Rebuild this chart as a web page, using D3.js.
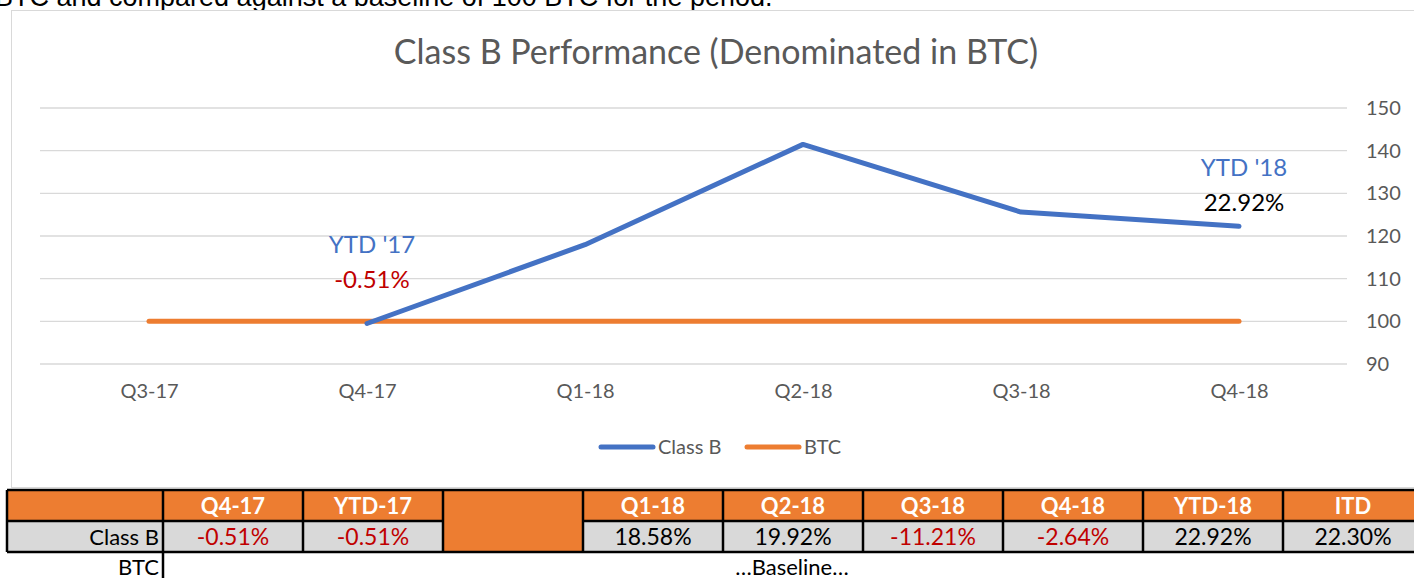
<!DOCTYPE html>
<html>
<head>
<meta charset="utf-8">
<script src="https://cdn.jsdelivr.net/npm/d3@7"></script>
<style>
  body { margin: 0; background: #fff; }
  svg { display: block; }
</style>
</head>
<body>
<div id="chart"></div>
<script>
// chart data
let quarters = ["Q3-17", "Q4-17", "Q1-18", "Q2-18", "Q3-18", "Q4-18"]
let classB = [null, 99.49, 117.97, 141.47, 125.61, 122.29]
let btc = [100, 100, 100, 100, 100, 100]
let yTicks = [90, 100, 110, 120, 130, 140, 150]

// table data
let tableHeads = ["Q4-17", "YTD-17", "", "Q1-18", "Q2-18", "Q3-18", "Q4-18", "YTD-18", "ITD"]
let tableClassB = ["-0.51%", "-0.51%", null, "18.58%", "19.92%", "-11.21%", "-2.64%", "22.92%", "22.30%"]

let blue = "#4472C4", orange = "#ED7D31", grey = "#595959", font = "Lato, 'Open Sans', sans-serif"

let svg = d3.select("#chart").append("svg")
  .attr("width", 1414)
  .attr("height", 578)

// cropped sentence above the chart
svg.append("text")
  .attr("x", -5).attr("y", 6)
  .style("font-family", "'Liberation Sans', Arial, sans-serif")
  .style("font-size", "27px")
  .attr("fill", "#000")
  .text("BTC and compared against a baseline of 100 BTC for the period.")

// chart frame
svg.append("rect")
  .attr("x", 11.5).attr("y", 10.5)
  .attr("width", 1420).attr("height", 477)
  .attr("fill", "#fff")
  .attr("stroke", "#d9d9d9")

let x = d3.scalePoint().domain(quarters).range([40, 1348]).padding(0.5)
let y = d3.scaleLinear().domain([90, 150]).range([364, 108])

// gridlines
svg.append("g").selectAll("line")
  .data(yTicks)
  .join("line")
  .attr("x1", 40).attr("x2", 1347)
  .attr("y1", d => y(d)).attr("y2", d => y(d))
  .attr("stroke", "#d9d9d9").attr("stroke-width", 1.3)

// y axis labels on the right
let yAxis = svg.append("g")
  .attr("transform", "translate(1366,0)")
  .call(d3.axisRight(y).tickValues(yTicks).tickSize(0).tickPadding(0))
yAxis.select(".domain").remove()
yAxis.selectAll("text")
  .attr("fill", grey)
  .style("font-family", font)
  .style("font-size", "20px")

// x axis labels
let xAxis = svg.append("g")
  .attr("transform", "translate(0,384)")
  .call(d3.axisBottom(x).tickSize(0).tickPadding(0))
xAxis.select(".domain").remove()
xAxis.selectAll("text")
  .attr("fill", grey)
  .style("font-family", font)
  .style("font-size", "20px")

// title
svg.append("text")
  .attr("x", 716).attr("y", 64)
  .attr("text-anchor", "middle")
  .attr("fill", grey)
  .style("font-family", font)
  .style("font-size", "34px")
  .text("Class B Performance (Denominated in BTC)")

let line = d3.line()
  .defined(d => d[1] != null)
  .x(d => x(d[0]))
  .y(d => y(d[1]))

svg.append("path")
  .datum(quarters.map((q, i) => [q, btc[i]]))
  .attr("d", line)
  .attr("fill", "none")
  .attr("stroke", orange)
  .attr("stroke-width", 5)
  .attr("stroke-linecap", "round")
  .attr("stroke-linejoin", "round")

svg.append("path")
  .datum(quarters.map((q, i) => [q, classB[i]]))
  .attr("d", line)
  .attr("fill", "none")
  .attr("stroke", blue)
  .attr("stroke-width", 5)
  .attr("stroke-linecap", "round")
  .attr("stroke-linejoin", "round")

// data callouts
let callouts = [
  {q: "Q4-17", v: 116, t1: "YTD '17", t2: "-0.51%", c2: "#C00000"},
  {q: "Q4-18", v: 134, t1: "YTD '18", t2: "22.92%", c2: "#000"}
]
callouts.forEach(c => {
  svg.append("text")
    .attr("x", x(c.q) + 5).attr("y", y(c.v))
    .attr("text-anchor", "middle")
    .attr("fill", blue)
    .style("font-family", font).style("font-size", "24px")
    .text(c.t1)
  svg.append("text")
    .attr("x", x(c.q) + 5).attr("y", y(c.v) + 35)
    .attr("text-anchor", "middle")
    .attr("fill", c.c2)
    .style("font-family", font).style("font-size", "24px")
    .text(c.t2)
})

// legend
let legend = [{name: "Class B", color: blue, x: 601}, {name: "BTC", color: orange, x: 747}]
legend.forEach(l => {
  svg.append("line")
    .attr("x1", l.x).attr("x2", l.x + 52)
    .attr("y1", 447).attr("y2", 447)
    .attr("stroke", l.color).attr("stroke-width", 5)
    .attr("stroke-linecap", "round")
  svg.append("text")
    .attr("x", l.x + 57).attr("y", 454)
    .attr("fill", grey)
    .style("font-family", font).style("font-size", "20px")
    .text(l.name)
})

// table below the chart
let tx = d3.scaleBand().domain(tableHeads.map((d, i) => i)).range([163, 1423])
let rowTop = 490, r1 = 521, r2 = 552, tf = "Lato, 'Open Sans', sans-serif"

// header row
svg.append("rect").attr("x", 7).attr("y", rowTop).attr("width", 1416).attr("height", r1 - rowTop).attr("fill", orange)
// class B row
svg.append("rect").attr("x", 7).attr("y", r1).attr("width", 1416).attr("height", r2 - r1).attr("fill", "#d9d9d9")
// blank merged orange cell
svg.append("rect").attr("x", tx(2)).attr("y", rowTop).attr("width", tx.bandwidth()).attr("height", r2 - rowTop).attr("fill", orange)

let tg = svg.append("g").attr("stroke", "#000").attr("stroke-width", 2.5)
tg.append("line").attr("x1", 7).attr("x2", 1423).attr("y1", rowTop).attr("y2", rowTop)
tg.append("line").attr("x1", 7).attr("x2", 1423).attr("y1", r2).attr("y2", r2)
tg.selectAll("line.mid")
  .data(tableHeads.map((d, i) => i).filter(i => i != 2))
  .join("line")
  .attr("class", "mid")
  .attr("x1", i => tx(i)).attr("x2", i => tx(i) + tx.bandwidth())
  .attr("y1", r1).attr("y2", r1)
tg.append("line").attr("x1", 7).attr("x2", 163).attr("y1", r1).attr("y2", r1)
tg.append("line").attr("x1", 7).attr("x2", 7).attr("y1", rowTop).attr("y2", r2)
tg.selectAll("line.v")
  .data(tableHeads.map((d, i) => i))
  .join("line")
  .attr("class", "v")
  .attr("x1", i => tx(i)).attr("x2", i => tx(i))
  .attr("y1", rowTop).attr("y2", r2)
tg.append("line").attr("x1", 163).attr("x2", 163).attr("y1", r2).attr("y2", 578)

svg.append("g").selectAll("text")
  .data(tableHeads)
  .join("text")
  .attr("x", (d, i) => tx(i) + tx.bandwidth() / 2)
  .attr("y", 514)
  .attr("text-anchor", "middle")
  .attr("fill", "#fff")
  .style("font-family", tf).style("font-size", "22px").style("font-weight", "bold")
  .text(d => d)

svg.append("g").selectAll("text")
  .data(tableClassB)
  .join("text")
  .attr("x", (d, i) => tx(i) + tx.bandwidth() / 2)
  .attr("y", 545)
  .attr("text-anchor", "middle")
  .attr("fill", d => d && d[0] == "-" ? "#C00000" : "#000")
  .style("font-family", tf).style("font-size", "23px")
  .text(d => d)

svg.append("text").attr("x", 159).attr("y", 545).attr("text-anchor", "end")
  .style("font-family", tf).style("font-size", "22px").text("Class B")
svg.append("text").attr("x", 159).attr("y", 575).attr("text-anchor", "end")
  .style("font-family", tf).style("font-size", "22px").text("BTC")
svg.append("text").attr("x", 792).attr("y", 575).attr("text-anchor", "middle")
  .style("font-family", tf).style("font-size", "22px").text("…Baseline…")
</script>
</body>
</html>
